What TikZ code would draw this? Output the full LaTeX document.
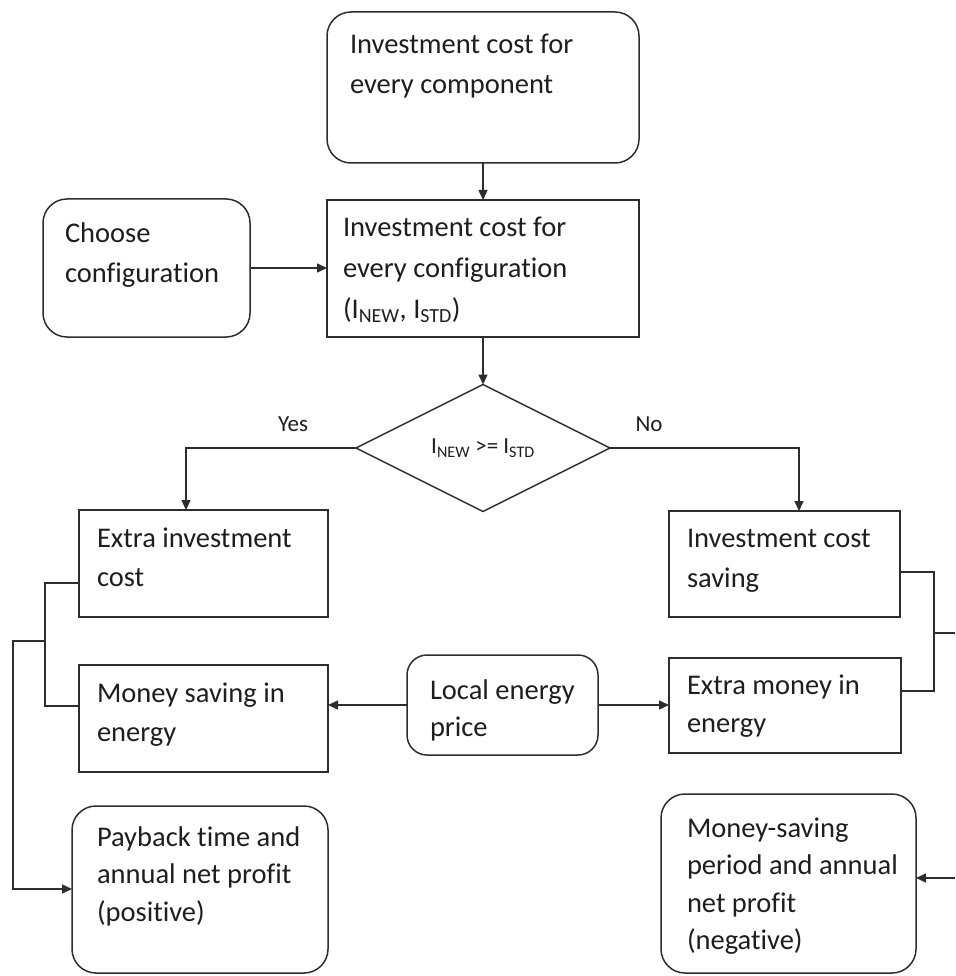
\documentclass[tikz,border=0pt]{standalone}
\usepackage{fontspec}
\setmainfont{Carlito}[Ligatures={NoCommon}]
\usetikzlibrary{arrows.meta,shapes.geometric}
\definecolor{linec}{RGB}{45,45,45}
\definecolor{textc}{RGB}{30,30,30}
% #1 width, #2 height, #3 left pad, #4 first baseline offset, #5 baselineskip, #6 text
\newcommand{\bxt}[6]{\parbox[b][#2pt][t]{#1pt}{\raggedright\leftskip=#3pt\relax\fontsize{28.5}{#5}\selectfont\rule{0pt}{#4pt}#6}}
\begin{document}
\begin{tikzpicture}[x=1pt,y=-1pt,
  every node/.style={inner sep=0pt,outer sep=0pt,text=textc},
  sqbox/.style={draw=linec,line width=1.5pt,anchor=north west},
  rdbox/.style={draw=linec,line width=1.5pt,anchor=north west,rounded corners=24pt},
  dec/.style={draw=linec,line width=1.5pt,shape=diamond,minimum width=254pt,minimum height=127pt,aspect=2},
  lab/.style={font=\fontsize{23}{26}\selectfont},
  conn/.style={draw=linec,line width=1.5pt},
  arr/.style={conn,-{Triangle[length=10pt,width=9pt]}}]
\useasboundingbox (0,0) rectangle (955,976);

\node[rdbox] (top) at (327,12) {\bxt{312}{151}{23}{42}{40}{Investment cost for\\every component}};
\node[sqbox] (cfg) at (327,200) {\bxt{312}{137}{16}{36}{41}{Investment cost for\\every configuration\\(I\textsubscript{NEW}, I\textsubscript{STD})}};
\node[rdbox] (choose) at (43,199) {\bxt{207}{138}{22}{43}{40}{Choose\\configuration}};
\node[dec] (dia) at (483,448) {\fontsize{23}{26}\selectfont I\textsubscript{NEW} >= I\textsubscript{STD}};
\node[lab] (yes) at (293,424) {Yes};
\node[lab] (no) at (649,424) {No};
\node[sqbox] (extra) at (79,510) {\bxt{249}{107}{18}{37}{39}{Extra investment\\cost}};
\node[sqbox] (saving) at (669,511) {\bxt{231}{106}{18}{36}{40}{Investment cost\\saving}};
\node[sqbox] (money) at (79,665) {\bxt{249}{107}{18}{37}{39}{Money saving in\\energy}};
\node[sqbox] (extram) at (669,658) {\bxt{232}{95}{18}{36}{38}{Extra money in\\energy}};
\node[rdbox,rounded corners=20pt] (local) at (407,655) {\bxt{191}{100}{23}{44}{37}{Local energy\\price}};
\node[rdbox] (payback) at (72,806) {\bxt{256}{167}{25}{40}{37.5}{Payback time and\\annual net profit\\(positive)}};
\node[rdbox] (period) at (661,794) {\bxt{255}{179}{26}{43}{37.5}{Money-saving\\period and annual\\net profit\\(negative)}};

\coordinate (yc) at (186,448);
\coordinate (nc) at (799,448);
\coordinate (L1) at (45,583);
\coordinate (L2) at (45,706);
\coordinate (L3) at (45,641);
\coordinate (L4) at (13,641);
\coordinate (L5) at (13,889);
\coordinate (R1) at (934,572);
\coordinate (R2) at (934,691);
\coordinate (R3) at (934,633);
\coordinate (R4) at (955,633);
\coordinate (R5) at (955,878);

\draw[arr] (top.south) -- (cfg.north);
\draw[arr] (choose.east) -- (choose.east -| cfg.west);
\draw[arr] (cfg.south) -- (dia.north);
\draw[arr] (dia.west) -- (yc) -- (yc |- extra.north);
\draw[arr] (dia.east) -- (nc) -- (nc |- saving.north);
\draw[arr] (local.west) -- (local.west -| money.east);
\draw[arr] (local.east) -- (local.east -| extram.west);
\draw[conn] (L1 -| extra.west) -- (L1) -- (L2) -- (L2 -| money.west);
\draw[arr] (L3) -- (L4) -- (L5) -- (L5 -| payback.west);
\draw[conn] (R1 -| saving.east) -- (R1) -- (R2) -- (R2 -| extram.east);
\draw[conn] (R3) -- (R4);
\draw[arr] (R5) -- (R5 -| period.east);
\end{tikzpicture}
\end{document}
